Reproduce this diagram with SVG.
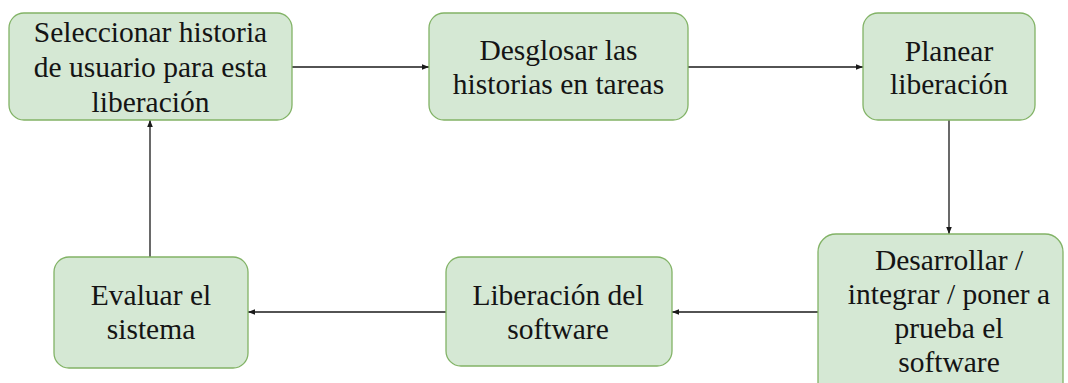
<svg xmlns="http://www.w3.org/2000/svg" width="1068" height="383" viewBox="0 0 1068 383">
  <style>
    .box { fill: #d5e8d4; stroke: #82b366; stroke-width: 1.3; }
    .lbl { font-family: 'Liberation Serif', 'DejaVu Serif', serif; font-size: 29.5px; fill: #141414; text-anchor: middle; }
    .edge { fill: none; stroke: #1a1a1a; stroke-width: 1.3; }
  </style>
  <defs>
    <marker id="arrow" viewBox="0 0 10 10" refX="10" refY="5" markerWidth="7" markerHeight="7" markerUnits="userSpaceOnUse" orient="auto">
      <path d="M0,1 L10,5 L0,9 Z" fill="#1a1a1a"/>
    </marker>
  </defs>
  <rect width="1068" height="383" fill="#ffffff"/>

  <g id="connectors">
    <line class="edge" x1="292" y1="67" x2="429" y2="67" marker-end="url(#arrow)"/>
    <line class="edge" x1="688" y1="67" x2="863" y2="67" marker-end="url(#arrow)"/>
    <line class="edge" x1="949" y1="120" x2="949" y2="234" marker-end="url(#arrow)"/>
    <line class="edge" x1="818" y1="312" x2="672" y2="312" marker-end="url(#arrow)"/>
    <line class="edge" x1="446" y1="312" x2="248" y2="312" marker-end="url(#arrow)"/>
    <line class="edge" x1="150" y1="257" x2="150" y2="120" marker-end="url(#arrow)"/>
  </g>

  <g id="node-seleccionar">
    <rect class="box" x="9" y="13" width="283" height="107" rx="15" ry="15"/>
    <text class="lbl" x="150.5" y="42">Seleccionar historia</text>
    <text class="lbl" x="150.5" y="77">de usuario para esta</text>
    <text class="lbl" x="150.5" y="112">liberación</text>
  </g>

  <g id="node-desglosar">
    <rect class="box" x="429" y="13" width="259" height="107" rx="15" ry="15"/>
    <text class="lbl" x="558.5" y="60">Desglosar las</text>
    <text class="lbl" x="558.5" y="94">historias en tareas</text>
  </g>

  <g id="node-planear">
    <rect class="box" x="863" y="13" width="172" height="107" rx="15" ry="15"/>
    <text class="lbl" x="949" y="61">Planear</text>
    <text class="lbl" x="949" y="94">liberación</text>
  </g>

  <g id="node-desarrollar">
    <rect class="box" x="818" y="234" width="245" height="170" rx="18" ry="18"/>
    <text class="lbl" x="949" y="270">Desarrollar /</text>
    <text class="lbl" x="949" y="304">integrar / poner a</text>
    <text class="lbl" x="949" y="338">prueba el</text>
    <text class="lbl" x="949" y="372">software</text>
  </g>

  <g id="node-liberacion">
    <rect class="box" x="446" y="257" width="226" height="109" rx="15" ry="15"/>
    <text class="lbl" x="558" y="305">Liberación del</text>
    <text class="lbl" x="558" y="339">software</text>
  </g>

  <g id="node-evaluar">
    <rect class="box" x="54" y="257" width="194" height="111" rx="15" ry="15"/>
    <text class="lbl" x="151" y="305">Evaluar el</text>
    <text class="lbl" x="151" y="339">sistema</text>
  </g>
</svg>
